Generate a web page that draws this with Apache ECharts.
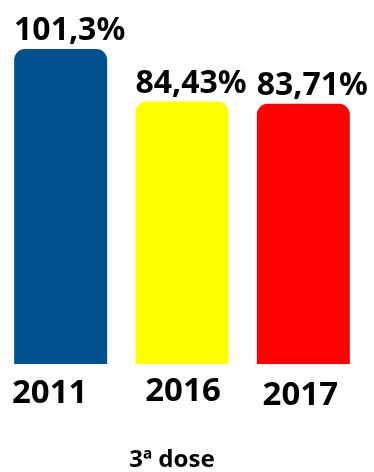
<!DOCTYPE html>
<html>
<head>
<meta charset="utf-8">
<style>
  html, body { margin: 0; padding: 0; background: #ffffff; }
  #chart { width: 374px; height: 472px; }
</style>
<script src="https://cdn.jsdelivr.net/npm/echarts@6/dist/echarts.min.js"></script>
</head>
<body>
<div id="chart"></div>
<script>
// Vaccination coverage, 3rd dose, by year
const years = ['2011', '2016', '2017'];
const coverage = [101.3, 84.43, 83.71];
const barColors = ['#02508f', '#ffff00', '#ff0000'];
const chartTitle = '3ª dose';

// small per-label nudges for the year labels under the bars
const yearLabelPadding = [[3, 22, 0, 0], [1, 0, 0, 2], [5, 6, 0, 0]];

const FONT = '"Noto Sans", sans-serif';

const chart = echarts.init(document.getElementById('chart'), null, { renderer: 'canvas' });

const fmt = v => v.toLocaleString('pt-BR', { maximumFractionDigits: 2 }) + '%';

chart.setOption({
  animation: false,
  backgroundColor: '#ffffff',
  title: {
    text: chartTitle,
    left: 167,
    top: 443,
    textAlign: 'center',
    textStyle: { fontFamily: FONT, fontWeight: 'bold', fontSize: 24, color: '#000000' }
  },
  grid: { left: 0, width: 364, top: 22, bottom: 108, containLabel: false },
  xAxis: {
    type: 'category',
    data: years.map((y, i) => ({ value: y, textStyle: { padding: yearLabelPadding[i] } })),
    axisLine: { show: false },
    axisTick: { show: false },
    axisLabel: {
      margin: 10,
      fontFamily: FONT, fontWeight: 'bold', fontSize: 33, color: '#000000'
    }
  },
  yAxis: {
    type: 'value',
    min: 0,
    max: 110,
    show: false
  },
  series: [{
    type: 'bar',
    barWidth: 93,
    data: coverage.map((v, i) => ({ value: v, itemStyle: { color: barColors[i] } })),
    itemStyle: { borderRadius: [11, 11, 0, 0] },
    label: {
      show: true,
      position: 'top',
      distance: 2,
      offset: [9, 0],
      formatter: p => fmt(p.value),
      fontFamily: FONT, fontWeight: 'bold', fontSize: 32, color: '#000000'
    }
  }]
});
</script>
</body>
</html>
